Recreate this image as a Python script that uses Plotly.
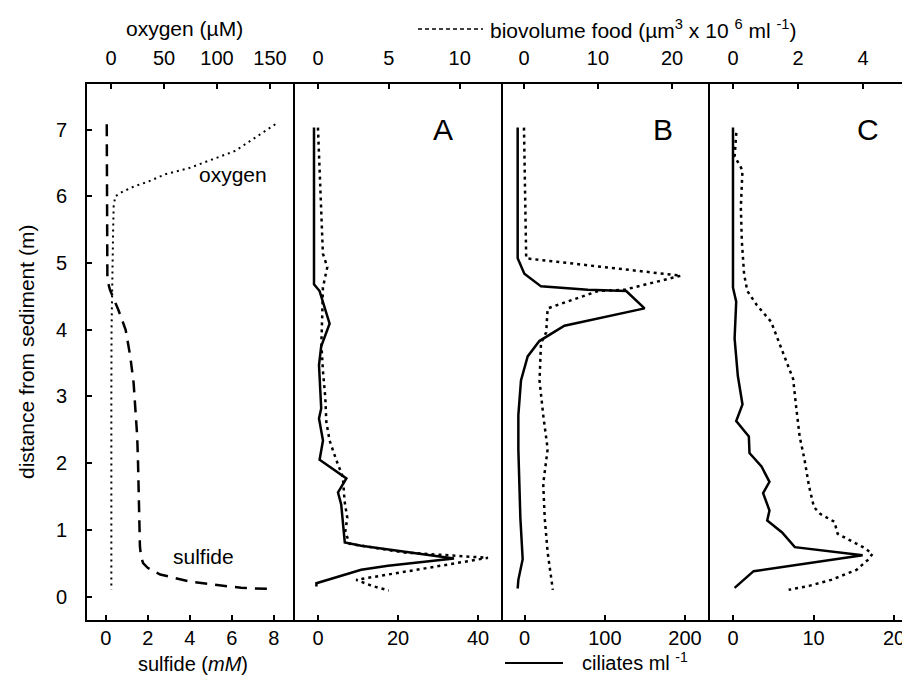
import plotly.graph_objects as go

W, H = 910, 675

# ---------------- data ----------------
# panel 1: chemistry
sulfide_depth = [7.08, 6.5, 6.0, 5.5, 5.0, 4.75, 4.6, 4.3, 4.0, 3.6, 3.2, 2.8, 2.4, 2.0,
                 1.5, 1.0, 0.75, 0.6, 0.5, 0.43, 0.33, 0.22, 0.13, 0.11]
sulfide_mM = [0.05, 0.05, 0.05, 0.05, 0.05, 0.08, 0.2, 0.6, 0.95, 1.17, 1.33, 1.43, 1.5, 1.54,
              1.57, 1.6, 1.63, 1.68, 1.78, 2.0, 2.6, 4.07, 6.45, 8.05]
oxygen_depth = [7.08, 6.9, 6.68, 6.55, 6.42, 6.33, 6.22, 6.15, 6.07, 6.0, 5.85, 5.5, 5.0,
                4.5, 4.0, 3.0, 2.0, 1.0, 0.1]
oxygen_uM = [155, 138, 117, 95, 73, 51, 35, 22, 11, 4, 2.5, 2, 1.5, 0.8, 0.5, 0.3, 0.3, 0.3, 0.3]

# panel A
a_cil_depth = [7.03, 4.68, 4.58, 4.09, 3.75, 3.47, 2.82, 2.67, 2.34, 2.05, 1.77, 1.56, 1.38,
               1.02, 0.81, 0.76, 0.57, 0.46, 0.40, 0.2, 0.15]
a_cil = [-1.0, -1.0, 0.4, 2.9, 0.8, 0.25, 0.8, 0.25, 1.25, 0.4, 7.1, 5.0, 5.8, 6.25, 6.7,
         10.8, 34.0, 17.5, 10.8, -0.4, -0.4]
a_food_depth = [7.03, 6.33, 5.56, 5.14, 4.94, 4.63, 4.27, 3.80, 3.39, 2.98, 2.62, 2.34, 2.05,
                1.79, 1.43, 1.18, 0.97, 0.79, 0.66, 0.58, 0.25, 0.16, 0.09]
a_food = [0.0, 0.12, 0.24, 0.35, 0.66, 0.35, 0.31, 0.24, 0.35, 0.52, 0.59, 0.82, 1.29, 1.76,
          1.88, 2.07, 1.93, 2.24, 6.1, 12.0, 2.7, 3.8, 5.0]

# panel B
b_cil_depth = [7.03, 5.07, 4.84, 4.65, 4.60, 4.58, 4.32, 4.06, 3.83, 3.60, 3.24, 2.72, 2.21,
               1.69, 1.18, 0.56, 0.25, 0.12]
b_cil = [-8.75, -8.75, -0.4, 20.4, 78.75, 126.7, 149.6, 49.6, 18.3, 3.75, -4.6, -7.9, -7.9,
         -6.7, -5.4, -2.5, -7.9, -8.75]
b_food_depth = [7.03, 5.07, 4.81, 4.60, 4.58, 4.32, 3.96, 3.80, 3.24, 2.72, 2.21, 1.69, 1.18,
                0.66, 0.1]
b_food = [0.0, 0.3, 21.2, 13.6, 10.0, 3.2, 3.0, 2.3, 2.1, 2.6, 3.2, 2.6, 2.8, 3.2, 3.9]

# panel C
c_cil_depth = [7.03, 4.63, 4.42, 3.87, 3.31, 2.88, 2.63, 2.40, 2.15, 1.95, 1.72, 1.55, 1.29,
               1.14, 0.96, 0.74, 0.62, 0.38, 0.13]
c_cil = [0, 0, 0.4, 0.2, 0.6, 1.18, 0.4, 1.97, 2.05, 3.54, 4.53, 3.74, 4.53, 4.25, 6.1, 7.68,
         16.1, 2.56, 0.2]
c_food_depth = [6.95, 6.60, 6.39, 5.84, 5.33, 4.83, 4.58, 4.37, 4.12, 3.87, 3.57, 3.26, 2.81,
                2.40, 2.05, 1.65, 1.34, 1.24, 1.12, 0.94, 0.74, 0.64, 0.55, 0.40, 0.25, 0.16,
                0.10]
c_food = [0.1, 0.05, 0.29, 0.24, 0.27, 0.34, 0.44, 0.73, 1.17, 1.37, 1.61, 1.85, 1.95, 2.05,
          2.20, 2.34, 2.49, 2.68, 3.12, 3.22, 4.0, 4.29, 4.15, 3.80, 3.02, 2.34, 1.71]

y_ticks = [0, 1, 2, 3, 4, 5, 6, 7]
sulfide_ticks = [0, 2, 4, 6, 8]
oxygen_ticks = [0, 50, 100, 150]
cil_ticks = [[0, 20, 40], [0, 100, 200], [0, 10, 20]]
food_ticks = [[0, 5, 10], [0, 10, 20], [0, 2, 4]]
panel_letters = ["A", "B", "C"]

# ---------------- layout helpers ----------------
FONT = "Arial, Liberation Sans, sans-serif"
edges = [78, 286, 494, 701, 908]
TOP, BOT = 75, 613


def px(p):
    return p / W


def py(p):
    return 1 - p / H


fig = go.Figure()

line_black = "black"
DOT_FOOD = "3px,4px"

fig.add_trace(go.Scatter(x=sulfide_mM, y=sulfide_depth, xaxis="x", yaxis="y", mode="lines",
                         line=dict(color=line_black, width=2.5, dash="12px,8px"),
                         name="sulfide"))
fig.add_trace(go.Scatter(x=oxygen_uM, y=oxygen_depth, xaxis="x5", yaxis="y", mode="lines",
                         line=dict(color=line_black, width=2, dash="2px,4px"),
                         name="oxygen"))

panels = [(a_cil, a_cil_depth, a_food, a_food_depth),
          (b_cil, b_cil_depth, b_food, b_food_depth),
          (c_cil, c_cil_depth, c_food, c_food_depth)]
for i, (cil, cd, food, fd) in enumerate(panels):
    fig.add_trace(go.Scatter(x=cil, y=cd, xaxis=f"x{i+2}", yaxis="y", mode="lines",
                             line=dict(color=line_black, width=2.5), name="ciliates"))
    fig.add_trace(go.Scatter(x=food, y=fd, xaxis=f"x{i+6}", yaxis="y", mode="lines",
                             line=dict(color=line_black, width=2.5, dash=DOT_FOOD),
                             name="food"))

tickfont = dict(family=FONT, size=20, color="black")
common = dict(showgrid=False, zeroline=False, showline=False, ticks="inside", ticklen=6,
              tickwidth=1.5, tickcolor="black", tickfont=tickfont, fixedrange=True)

bottom_ranges = [[-0.938, 8.967], [-6, 46], [-28.3, 230], [-2.98, 22.73]]
top_ranges = [[-23.6, 172.6], [-1.69, 12.99], [-2.97, 25.0], [-0.74, 5.63]]
bottom_ticks = [sulfide_ticks] + cil_ticks
top_ticks = [oxygen_ticks] + food_ticks

layout_axes = {}
for i in range(4):
    dom = [px(edges[i]), px(edges[i + 1])]
    key = "xaxis" if i == 0 else f"xaxis{i+1}"
    layout_axes[key] = dict(domain=dom, range=bottom_ranges[i], tickvals=bottom_ticks[i],
                            anchor="y", side="bottom", ticklabelstandoff=3, **common)
    tkey = f"xaxis{i+5}"
    base = "x" if i == 0 else f"x{i+1}"
    layout_axes[tkey] = dict(domain=dom, range=top_ranges[i], tickvals=top_ticks[i],
                             anchor="y", side="top", overlaying=base, ticklabelstandoff=13,
                             **common)

layout_axes["yaxis"] = dict(domain=[py(BOT), py(TOP)], range=[-0.367, 7.699],
                            tickvals=y_ticks, anchor="x", side="left", ticklabelstandoff=18,
                            **common)

shapes = [dict(type="rect", xref="paper", yref="paper", x0=px(edges[0]), x1=px(edges[-1]),
               y0=py(BOT), y1=py(TOP), line=dict(color="black", width=2), layer="above")]
for e in edges[1:-1]:
    shapes.append(dict(type="line", xref="paper", yref="paper", x0=px(e), x1=px(e),
                       y0=py(BOT), y1=py(TOP), line=dict(color="black", width=2),
                       layer="above"))
# legend sample lines
shapes.append(dict(type="line", xref="paper", yref="paper", x0=px(410), x1=px(475),
                   y0=py(21), y1=py(21), line=dict(color="black", width=1.5, dash="4px,3px")))
shapes.append(dict(type="line", xref="paper", yref="paper", x0=px(497), x1=px(555),
                   y0=py(655), y1=py(655), line=dict(color="black", width=2)))

tf = dict(family=FONT, size=21, color="black")
tf20 = dict(family=FONT, size=20, color="black")
annotations = [
    dict(text="oxygen (µM)", x=px(176), y=py(21), xref="paper", yref="paper",
         showarrow=False, font=tf, xanchor="center", yanchor="middle"),
    dict(text="biovolume food (µm<sup>3</sup> x 10 <sup>6</sup> ml <sup>-1</sup>)",
         x=px(480), y=py(21), xref="paper", yref="paper", showarrow=False, font=tf,
         xanchor="left", yanchor="middle"),
    dict(text="sulfide (<i>mM</i>)", x=px(185), y=py(656), xref="paper", yref="paper",
         showarrow=False, font=tf20, xanchor="center", yanchor="middle"),
    dict(text="ciliates ml <sup>-1</sup>", x=px(572), y=py(653), xref="paper", yref="paper",
         showarrow=False, font=tf20, xanchor="left", yanchor="middle"),
    dict(text="distance from sediment (m)", x=px(18), y=py(344), xref="paper",
         yref="paper", showarrow=False, font=tf, textangle=-90, xanchor="center",
         yanchor="middle"),
    dict(text="oxygen", x=px(225), y=6.33, xref="paper", yref="y", showarrow=False,
         font=tf, xanchor="center", yanchor="middle"),
    dict(text="sulfide", x=px(195), y=0.6, xref="paper", yref="y", showarrow=False,
         font=tf, xanchor="center", yanchor="middle"),
]
letter_x = [435, 655, 860]
for lx, letter in zip(letter_x, panel_letters):
    annotations.append(dict(text=letter, x=px(lx), y=7.0, xref="paper", yref="y",
                            showarrow=False, font=dict(family=FONT, size=30, color="black"),
                            xanchor="center", yanchor="middle"))

fig.update_layout(width=W, height=H, margin=dict(l=0, r=0, t=0, b=0),
                  paper_bgcolor="white", plot_bgcolor="white", showlegend=False,
                  shapes=shapes, annotations=annotations, **layout_axes)

fig.write_html("out.html")
